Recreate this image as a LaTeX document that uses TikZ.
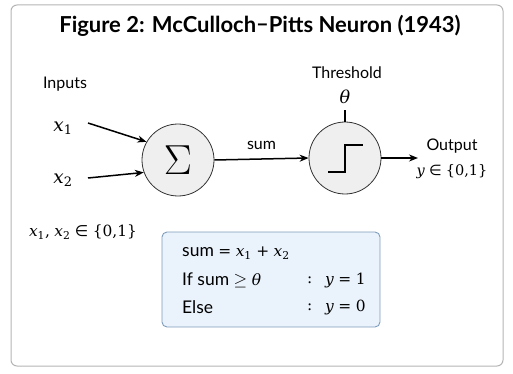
\RequirePackage{fix-cm}
\documentclass[tikz,border=0pt]{standalone}
\usepackage{fontspec}
\setmainfont{Lato}
\newfontfamily\mf{DejaVu Serif}[Scale=0.88]
\newfontfamily\ms{DejaVu Sans}[Scale=0.88]
\newcommand\vi[1]{{\mf\itshape #1}}
\newcommand\vs[2]{{\mf\itshape #1}\textsubscript{\mf #2}}
\usetikzlibrary{arrows.meta}
\definecolor{boxfill}{HTML}{EAF2FB}
\definecolor{boxline}{HTML}{7F9CBC}
\definecolor{framec}{HTML}{B4B4B4}
\definecolor{circfill}{HTML}{EFEFEF}
\tikzset{
  neuron/.style={circle, draw=black!80, line width=0.8pt, fill=circfill, minimum size=72pt, inner sep=0pt},
  conn/.style={line width=1.5pt, -{Stealth[length=9pt,width=7pt]}},
  lbl/.style={inner sep=0pt, font=\fontsize{16}{18}\selectfont},
  mth/.style={inner sep=0pt, font=\fontsize{21}{23}\selectfont},
  boxtxt/.style={inner sep=0pt, anchor=west, font=\fontsize{17.5}{20}\selectfont}
}
\begin{document}
\begin{tikzpicture}[x=1pt,y=-1pt]
\useasboundingbox (0,0) rectangle (513,374);
\draw[framec, line width=1pt, rounded corners=6pt] (11,5) rectangle (503,366);
\node[inner sep=0pt, font=\fontsize{22}{26}\selectfont\bfseries] (title) at (260,26) {Figure 2: McCulloch\raisebox{1pt}{--}Pitts Neuron (1943)};

\node[lbl] (inputs) at (65,84) {Inputs};
\node[mth] (x1) at (63,128) {\vs{x}{1}};
\node[mth] (x2) at (63,180) {\vs{x}{2}};
\node[mth, font=\fontsize{17.5}{19}\selectfont] (dom) at (83,232) {\vs{x}{1}{\mf,} \vs{x}{2} {\ms ∈} {\mf\{0,1\}}};

\node[neuron] (sigma) at (178,160) {\fontsize{42}{44}\selectfont$\Sigma$};
\node[neuron] (thr) at (345,158) {};
\draw[line width=2pt] (328,172) -- (345,172) -- (345,145) -- (363,145);

\coordinate (x1e) at (88,123);
\coordinate (x2e) at (88,178);
\draw[conn] (x1e) -- (sigma.150);
\draw[conn] (x2e) -- (sigma.200);
\draw[conn] (sigma.east) -- (thr.west) node[midway, above=9pt, lbl] (sum) {sum};
\draw[line width=1.3pt] (thr.north) -- ++(0,-12) coordinate (tick);
\node[mth, font=\fontsize{20}{22}\selectfont] (theta) at (345,97) {\vi{θ}};
\node[lbl] (thlbl) at (347,73) {Threshold};

\coordinate (oute) at (418,158);
\draw[conn] (thr.east) -- (oute);
\node[lbl] (outlbl) at (452,146) {Output};
\node[mth, font=\fontsize{16.5}{18}\selectfont] (ydom) at (452,172) {\vi{y} {\ms ∈} {\mf\{0,1\}}};

\draw[boxline, fill=boxfill, line width=0.9pt, rounded corners=5pt] (162,232) rectangle (380,327);
\node[boxtxt] (l1) at (182,253) {sum {\mf =} \vs{x}{1} {\mf +} \vs{x}{2}};
\node[boxtxt] (l2) at (182,280) {If sum $\geq$ \vi{θ}};
\node[boxtxt] (l3) at (182,307) {Else};
\node[boxtxt] (c2) at (307,280) {{\mf :}};
\node[boxtxt] (c3) at (307,307) {{\mf :}};
\node[boxtxt] (r2) at (325,280) {\vi{y} {\mf =} {\mf 1}};
\node[boxtxt] (r3) at (325,307) {\vi{y} {\mf =} {\mf 0}};
\end{tikzpicture}
\end{document}
